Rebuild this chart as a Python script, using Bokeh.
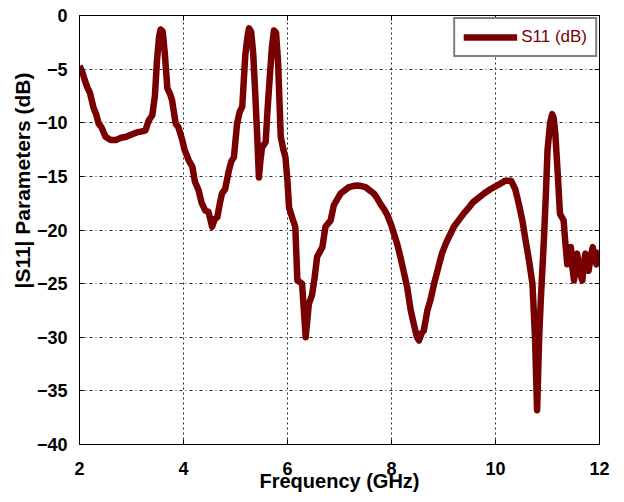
from bokeh.plotting import figure
from bokeh.models import (LinearAxis, FixedTicker, Legend, LegendItem, Title,
                          ColumnDataSource)
from bokeh.embed import file_html
from bokeh.resources import INLINE

# ---- data ----
freq_ghz = [2.0, 2.05, 2.1, 2.15, 2.2, 2.27, 2.32, 2.37, 2.42, 2.5, 2.6, 2.7, 2.8, 2.9,
            3.0, 3.1, 3.2, 3.27, 3.33, 3.4, 3.45, 3.49, 3.53, 3.56, 3.6, 3.64, 3.69,
            3.74, 3.78, 3.85, 3.9, 3.97, 4.02, 4.1, 4.17, 4.22, 4.29, 4.35, 4.42,
            4.48, 4.55, 4.6, 4.65, 4.7, 4.74, 4.8, 4.87, 4.92, 4.97, 5.03, 5.08,
            5.13, 5.16, 5.19, 5.23, 5.26, 5.3, 5.34, 5.38, 5.42, 5.45, 5.48, 5.51,
            5.58, 5.62, 5.66, 5.7, 5.74, 5.78, 5.82, 5.87, 5.92, 5.96, 6.0, 6.03,
            6.1, 6.15, 6.19, 6.28, 6.35, 6.41, 6.47, 6.52, 6.57, 6.67, 6.73, 6.83,
            6.89, 6.95, 7.02, 7.1, 7.18, 7.26, 7.34, 7.42, 7.5, 7.58, 7.66, 7.72,
            7.79, 7.85, 7.92, 8.0, 8.05, 8.11, 8.17, 8.24, 8.3, 8.37, 8.43, 8.49,
            8.53, 8.58, 8.62, 8.69, 8.75, 8.82, 8.9, 8.97, 9.05, 9.13, 9.2, 9.29,
            9.4, 9.49, 9.57, 9.65, 9.78, 9.9, 10.05, 10.19, 10.3, 10.38, 10.45,
            10.52, 10.58, 10.65, 10.71, 10.76, 10.8, 10.84, 10.87, 10.93, 10.97,
            11.0, 11.05, 11.09, 11.12, 11.15, 11.2, 11.24, 11.31, 11.34, 11.38,
            11.42, 11.45, 11.48, 11.51, 11.54, 11.57, 11.62, 11.67, 11.7, 11.73,
            11.76, 11.79, 11.83, 11.87, 11.9, 11.94, 11.97, 12.0]
s11_db = [-4.7, -5.2, -6.0, -6.7, -7.2, -8.6, -9.2, -10.1, -10.4, -11.3, -11.6, -11.6,
          -11.4, -11.3, -11.1, -10.9, -10.8, -10.7, -9.8, -9.3, -7.5, -4.2, -2.0, -1.3,
          -1.5, -3.5, -6.8, -7.3, -7.9, -10.1, -10.4, -11.5, -12.5, -13.5, -14.1,
          -15.5, -16.3, -17.5, -18.2, -18.3, -19.7, -19.0, -18.8, -17.5, -16.6, -16.2,
          -14.5, -13.6, -13.2, -10.1, -9.0, -8.5, -6.0, -3.6, -2.0, -1.2, -1.5, -3.5,
          -7.3, -11.5, -15.1, -13.5, -12.3, -11.8, -8.5, -5.7, -3.0, -1.4, -1.6, -4.5,
          -11.3, -12.5, -13.2, -15.5, -17.9, -19.0, -19.7, -24.7, -25.0, -30.0, -26.9,
          -26.1, -24.5, -22.5, -21.6, -19.7, -19.1, -17.7, -17.2, -16.6, -16.3, -16.0,
          -15.9, -15.85, -15.9, -16.0, -16.3, -16.6, -17.0, -17.6, -18.0, -18.6,
          -19.6, -20.4, -21.3, -22.5, -24.0, -25.3, -27.5, -28.8, -30.0, -30.3,
          -29.6, -29.4, -27.5, -26.5, -25.0, -23.5, -22.2, -21.2, -20.4, -19.7,
          -19.1, -18.4, -17.9, -17.4, -17.1, -16.6, -16.2, -15.8, -15.4, -15.4,
          -16.2, -17.6, -19.2, -21.0, -23.0, -25.0, -30.0, -36.8, -30.0, -26.6,
          -21.0, -16.5, -12.6, -10.0, -9.2, -9.6, -11.0, -15.0, -18.5, -19.1, -21.0,
          -23.2, -22.0, -21.6, -23.5, -24.7, -23.0, -22.2, -24.0, -24.7, -23.0,
          -22.2, -23.5, -23.8, -22.5, -21.6, -22.5, -23.2, -22.3, -21.9]

x_ticks = [2, 4, 6, 8, 10, 12]
y_ticks = [-40, -35, -30, -25, -20, -15, -10, -5, 0]
x_title = "Frequency (GHz)"
y_title = "|S11| Parameters (dB)"
series_name = "S11 (dB)"

LINE_COLOR = "#780000"
FONT = "Liberation Sans"

p = figure(width=616, height=494, x_range=(2, 12), y_range=(-40, 0),
           output_backend="svg", toolbar_location=None,
           min_border_left=79, min_border_right=17, min_border_top=15,
           min_border_bottom=50, background_fill_color="white",
           border_fill_color="white")
p.outline_line_color = "black"
p.outline_line_width = 1

src = ColumnDataSource(dict(f=freq_ghz, s=s11_db))
r = p.line("f", "s", source=src, line_color=LINE_COLOR, line_width=6.5,
           line_join="round")

def style_axis(ax, ticks, show_labels=True):
    ax.ticker = FixedTicker(ticks=ticks)
    ax.axis_line_color = "black"
    ax.axis_line_width = 1
    ax.major_tick_in = 5
    ax.major_tick_out = 0
    ax.minor_tick_line_color = None
    ax.major_tick_line_color = "black"
    ax.major_label_text_font = FONT
    ax.major_label_text_font_style = "bold"
    ax.major_label_text_font_size = "18px"
    ax.major_label_text_color = "black"
    if not show_labels:
        ax.major_label_text_font_size = "0px"
        ax.major_label_text_color = None
        ax.major_label_standoff = 0

style_axis(p.xaxis[0], x_ticks)
style_axis(p.yaxis[0], y_ticks)
p.xaxis[0].major_label_standoff = 17
p.yaxis[0].major_label_standoff = 12
p.xaxis[0].axis_label = x_title
p.xaxis[0].axis_label_text_font = FONT
p.xaxis[0].axis_label_text_font_style = "bold"
p.xaxis[0].axis_label_text_font_size = "20px"
p.xaxis[0].axis_label_text_color = "black"
p.xaxis[0].axis_label_standoff = -8

top_ax = LinearAxis()
right_ax = LinearAxis()
style_axis(top_ax, x_ticks, show_labels=False)
style_axis(right_ax, y_ticks, show_labels=False)
p.add_layout(top_ax, "above")
p.add_layout(right_ax, "right")

# y title, shifted upward like the reference
ytitle = Title(text=y_title, align="left", offset=156, standoff=0,
               text_font=FONT, text_font_style="bold", text_font_size="21px",
               text_color="black")
p.add_layout(ytitle, "left")

# grid
p.xgrid.ticker = FixedTicker(ticks=x_ticks)
p.ygrid.ticker = FixedTicker(ticks=y_ticks)
p.xgrid.grid_line_color = "black"
p.xgrid.grid_line_dash = "2 3"
p.xgrid.grid_line_width = 1
p.xgrid.grid_line_alpha = 0.85
p.ygrid.grid_line_color = "black"
p.ygrid.grid_line_dash = "3 3 1 3"
p.ygrid.grid_line_width = 1
p.ygrid.grid_line_alpha = 0.85

legend = Legend(items=[LegendItem(label=series_name, renderers=[r])],
                location="top_right", margin=2, padding=8, spacing=0,
                glyph_width=54, glyph_height=20, label_standoff=4,
                label_text_font=FONT, label_text_font_size="17px",
                label_text_color=LINE_COLOR, border_line_color="black",
                border_line_width=2, background_fill_color="white",
                background_fill_alpha=1.0)
p.add_layout(legend)

open("out.html", "w").write(file_html(p, INLINE))
